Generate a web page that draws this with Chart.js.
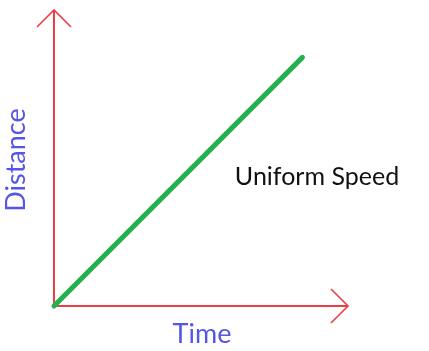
<!DOCTYPE html>
<html>
<head>
<meta charset="utf-8">
<script src="https://cdn.jsdelivr.net/npm/chart.js@4/dist/chart.umd.min.js"></script>
<style>
  html, body { margin: 0; padding: 0; background: #ffffff; }
  #wrap { width: 429px; height: 351px; }
</style>
</head>
<body>
<div id="wrap"><canvas id="c" width="429" height="351"></canvas></div>
<script>
// Data
const timeValues = [0, 8.45];
const distanceValues = [0, 8.4];
const xAxisLabel = "Time";
const yAxisLabel = "Distance";
const lineLabel = "Uniform Speed";

const RED = "rgb(237,60,70)";
const GREEN = "rgb(34,177,76)";
const BLUE = "rgb(85,85,230)";

const points = timeValues.map((t, i) => ({ x: t, y: distanceValues[i] }));

const axesPlugin = {
  id: "arrowAxes",
  beforeDatasetsDraw(chart) {
    const ctx = chart.ctx;
    const xs = chart.scales.x, ys = chart.scales.y;
    const x0 = xs.getPixelForValue(xs.min);
    const y0 = ys.getPixelForValue(ys.min);
    const xTip = xs.getPixelForValue(xs.max);
    const yTip = ys.getPixelForValue(ys.max);
    const w = 17;
    ctx.save();
    ctx.strokeStyle = RED;
    ctx.lineWidth = 2;
    ctx.lineCap = "butt";
    ctx.beginPath();
    ctx.moveTo(x0, y0); ctx.lineTo(x0, yTip);
    ctx.moveTo(x0, y0); ctx.lineTo(xTip, y0);
    ctx.stroke();
    ctx.lineWidth = 1.6;
    ctx.beginPath();
    ctx.moveTo(x0 - w, yTip + w); ctx.lineTo(x0, yTip); ctx.lineTo(x0 + w, yTip + w);
    ctx.moveTo(xTip - w, y0 - w); ctx.lineTo(xTip, y0); ctx.lineTo(xTip - w, y0 + w);
    ctx.stroke();
    ctx.restore();
  },
  afterDraw(chart) {
    const ctx = chart.ctx;
    const xs = chart.scales.x, ys = chart.scales.y;
    const x0 = xs.getPixelForValue(xs.min);
    const y0 = ys.getPixelForValue(ys.min);
    ctx.save();
    ctx.textBaseline = "alphabetic";
    ctx.textAlign = "center";
    // x axis title
    ctx.fillStyle = BLUE;
    ctx.font = "27px Lato, 'Open Sans', sans-serif";
    ctx.fillText(xAxisLabel, (x0 + xs.right) / 2 + 1, y0 + 37);
    // y axis title
    ctx.save();
    ctx.translate(x0 - 29, (ys.top + y0) / 2 + 2);
    ctx.rotate(-Math.PI / 2);
    ctx.fillText(yAxisLabel, 0, 0);
    ctx.restore();
    // line label
    ctx.fillStyle = "#111111";
    ctx.font = "25px Lato, 'Open Sans', sans-serif";
    ctx.fillText(lineLabel, 317, 185);
    ctx.restore();
  }
};

new Chart(document.getElementById("c"), {
  type: "scatter",
  data: {
    datasets: [{
      data: points,
      showLine: true,
      borderColor: GREEN,
      backgroundColor: GREEN,
      borderWidth: 5,
      pointRadius: 0,
      borderCapStyle: "round",
      clip: false
    }]
  },
  options: {
    responsive: false,
    animation: false,
    devicePixelRatio: 1,
    layout: { padding: { left: 54, right: 81, top: 10, bottom: 45 } },
    plugins: { legend: { display: false }, tooltip: { enabled: false } },
    scales: {
      x: { type: "linear", min: 0, max: 10, display: false },
      y: { type: "linear", min: 0, max: 10, display: false }
    }
  },
  plugins: [axesPlugin]
});
</script>
</body>
</html>
